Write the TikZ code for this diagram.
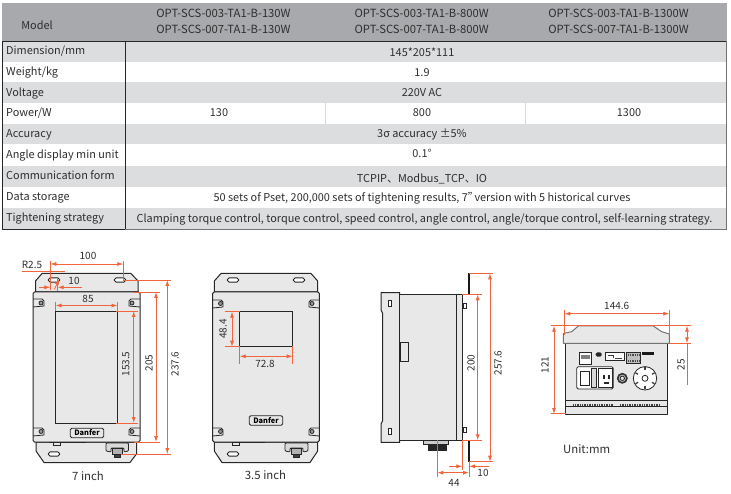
\documentclass[tikz,border=0pt]{standalone}
\usepackage{fontspec}
\setmainfont{Noto Sans CJK SC}
\usetikzlibrary{arrows.meta}

\definecolor{headgray}{HTML}{A7A9AC}
\definecolor{rowgray}{HTML}{DCDDDE}
\definecolor{bodygray}{HTML}{E8E8E8}
\definecolor{dimred}{HTML}{F0653C}
\definecolor{inkgray}{HTML}{2E2E2E}

\tikzset{
  celltext/.style={inner sep=0pt,anchor=base,font=\fontsize{10.9}{12}\selectfont,text=inkgray},
  headtext/.style={celltext,font=\fontsize{11.25}{12}\selectfont},
  rowlabel/.style={celltext,anchor=base west},
  dimtext/.style={inner sep=0pt,font=\fontsize{10}{12}\selectfont,text=inkgray},
  captext/.style={inner sep=0pt,font=\fontsize{11.4}{13}\selectfont,text=inkgray},
  dimline/.style={draw=dimred,line width=0.8pt,{Latex[length=6pt,width=4pt]}-{Latex[length=6pt,width=4pt]}},
  extline/.style={draw=dimred,line width=0.8pt},
  leaderline/.style={extline,-{Latex[length=6pt,width=4pt]}},
  device/.style={draw=black!85,line width=1pt,fill=bodygray,line join=round},
  detail/.style={draw=black!85,line width=0.8pt},
  slot/.style={draw=black!85,line width=0.9pt,fill=white,rounded corners=1.8pt,minimum width=11.5pt,minimum height=4.2pt,inner sep=0pt},
  logo/.style={draw=black!85,line width=0.8pt,rounded corners=1.5pt,inner sep=0pt,minimum height=9.5pt,minimum width=33.5pt,font=\fontsize{7.4}{8}\selectfont\bfseries}
}

\begin{document}
\begin{tikzpicture}[x=1pt,y=-1pt]
\useasboundingbox (0,0) rectangle (731,494);

% the table
\fill [headgray] (2,3) rectangle (727,41);
\fill [rowgray] (2,41) rectangle (727,62);
\fill [rowgray] (2,82) rectangle (727,103);
\fill [rowgray] (2,124) rectangle (727,144);
\fill [rowgray] (2,166) rectangle (727,187);
\fill [rowgray] (2,208) rectangle (727,229);

\draw [line width=0.8pt,black!85] (2,41.5)--(726.5,41.5);
\draw [line width=0.8pt,black!85] (2,41.5)--(2,229)--(125,229);
\draw [line width=1pt,black!85] (125,41.5)--(125,229);
\draw [line width=0.8pt,black!55] (125,229)--(726.5,229)--(726.5,41.5);
\draw [white!85!black] (325,103)--(325,124);
\draw [white!85!black] (525,103)--(525,124);

\node [celltext] (modelhead) at (37,29.3) {Model};
\node [headtext] (headlow1) at (223.5,17.7) {OPT-SCS-003-TA1-B-130W};
\node [headtext] (headlow2) at (223.5,34) {OPT-SCS-007-TA1-B-130W};
\node [headtext] (headmid1) at (421.7,17.7) {OPT-SCS-003-TA1-B-800W};
\node [headtext] (headmid2) at (421.7,34) {OPT-SCS-007-TA1-B-800W};
\node [headtext] (headtop1) at (618.5,17.7) {OPT-SCS-003-TA1-B-1300W};
\node [headtext] (headtop2) at (618.5,34) {OPT-SCS-007-TA1-B-1300W};

\node [rowlabel] (dimlabel) at (6,55) {Dimension/mm};
\node [rowlabel] (weightlabel) at (6,76) {Weight/kg};
\node [rowlabel] (voltlabel) at (6,96.7) {Voltage};
\node [rowlabel] (powerlabel) at (6,116.7) {Power/W};
\node [rowlabel] (acclabel) at (6,137.7) {Accuracy};
\node [rowlabel] (anglelabel) at (6,159) {Angle display min unit};
\node [rowlabel] (commlabel) at (6,180) {Communication form};
\node [rowlabel] (datalabel) at (6,201) {Data storage};
\node [rowlabel] (strategylabel) at (6,221.7) {Tightening strategy};

\node [celltext] (dimvalue) at (422,57) {145*205*111};
\node [celltext] (weightvalue) at (422,76.7) {1.9};
\node [celltext] (voltvalue) at (422,97) {220V AC};
\node [celltext] (powerlow) at (219,116.7) {130};
\node [celltext] (powermid) at (422,116.7) {800};
\node [celltext] (powertop) at (629,116.7) {1300};
\node [celltext] (accvalue) at (422,137.3) {3σ accuracy ±5\%};
\node [celltext] (anglevalue) at (422,157.7) {0.1°};
\node [celltext] (commvalue) at (422,182.3) {TCPIP、Modbus\_TCP、IO};
\node [celltext] (datavalue) at (422,202) {50 sets of Pset,~200,000 sets of tightening results,~7"\kern-0.62em~version with 5 historical curves};
\node [celltext] (strategyvalue) at (424.5,222.7) {Clamping torque control, torque control, speed control, angle control, angle/torque control, self-learning strategy.};


% the 7 inch front
\draw [device] (35.5,292)--(35.5,281)--(42,273.5)--(131,273.5)--(138,281)--(138,292)--cycle;
\draw [device] (36,442)--(36,451)--(44,462.5)--(130,462.5)--(136.5,454)--(136.5,442)--cycle;
\draw [device,rounded corners=1.5pt] (33,292) rectangle (140,442);
\draw [detail] (55.3,311) rectangle (117.3,423);
\node [slot] (slota) at (54,280) {};
\node [slot] (slotb) at (120,280) {};
\node [slot] (slotc) at (54,454) {};
\node [logo] (logoa) at (87,433) {Danfer};

\draw [detail] (33,299)--(42,299)--(44,301)--(44,306)--(33,307);
\draw [detail] (140,299)--(131,299)--(129,301)--(129,306)--(140,307);
\draw [detail] (33,428)--(42,428)--(44,430)--(44,435)--(33,436);
\draw [detail] (140,428)--(131,428)--(129,430)--(129,435)--(140,436);
\draw [detail,fill=black!40] (41,303) circle (2);
\draw [detail,fill=black!40] (132,303) circle (2);
\draw [detail,fill=black!40] (41,431.5) circle (2);
\draw [detail,fill=black!40] (132,431.5) circle (2);

\draw [line width=1pt,black!85] (49,442.5)--(86,442.5);
\draw [detail] (53,442)--(53,445)--(60,445)--(60,442);
\draw [detail,fill=black!15,rounded corners=1pt] (106,443)--(106,451)--(111,452)--(111,448)--(124,448)--(124,452)--(128.5,451)--(128.5,443)--cycle;
\draw [detail,fill=black!30] (112.5,448) rectangle (122,454);
\draw [detail,fill=black!75] (114,454) rectangle (120,457.5);

\coordinate (hundredL) at (50.3,264);
\coordinate (hundredR) at (123.3,264);
\draw [extline] (50.3,261)--(50.3,290);
\draw [extline] (123.3,261)--(123.3,280);
\draw [dimline] (hundredL)--(hundredR);
\node [dimtext] (hundredtext) at (88,256) {100};

\node [dimtext] (rtext) at (32,265) {R2.5};
\coordinate (rleft) at (21.7,271);
\coordinate (rright) at (65,271);
\draw [extline] (rleft)--(rright);

\coordinate (tenL) at (39,287.3);
\coordinate (tenR) at (81.7,287.3);
\coordinate (tenA) at (50.3,287.3);
\coordinate (tenB) at (57.7,287.3);
\draw [leaderline] (tenL)--(tenA);
\draw [leaderline] (tenR)--(tenB);
\draw [extline] (57.7,279)--(57.7,291.5);
\node [dimtext] (tentext) at (74,281) {10};
\draw [leaderline] (54.3,289.5)--(59.5,279);

\coordinate (eightyL) at (55.5,305.5);
\coordinate (eightyR) at (117.5,305.5);
\draw [extline] (55.5,302)--(55.5,311);
\draw [extline] (117.5,302)--(117.5,311);
\draw [dimline] (eightyL)--(eightyR);
\node [dimtext] (eightytext) at (88,299) {85};

\coordinate (winT) at (133.7,311);
\coordinate (winB) at (133.7,423);
\draw [extline] (116,311)--(138,311);
\draw [extline] (116,423)--(138,423);
\draw [dimline] (winT)--(winB);
\node [dimtext,rotate=90] (wintext) at (125.7,364) {153.5};

\coordinate (bodyT) at (156,292);
\coordinate (bodyB) at (156,442);
\draw [extline] (134,292)--(160,292);
\draw [extline] (134,442)--(160,442);
\draw [dimline] (bodyT)--(bodyB);
\node [dimtext,rotate=90] (bodytext) at (149,363) {205};

\coordinate (fullT) at (167.3,280);
\coordinate (fullB) at (167.3,454);
\draw [extline] (123,280)--(171,280);
\draw [extline] (121,454)--(171,454);
\draw [dimline] (fullT)--(fullB);
\node [dimtext,rotate=90] (fulltext) at (175,364) {237.6};

\node [captext] (seveninch) at (88,476) {7 inch};


% the 3.5 inch front
\draw [device] (214.3,292)--(214.3,281)--(221,273.5)--(311,273.5)--(317.7,281)--(317.7,292)--cycle;
\draw [device] (214.3,442)--(214.3,451)--(222,462.5)--(310,462.5)--(317.7,451)--(317.7,442)--cycle;
\draw [device,rounded corners=1.5pt] (212.7,292) rectangle (319.3,442);
\draw [detail] (239.5,311.7) rectangle (292.7,346.7);
\node [slot] (slotd) at (233,280) {};
\node [slot] (slote) at (299,280) {};
\node [slot] (slotf) at (233,454) {};
\node [logo] (logob) at (266,420.5) {Danfer};

\draw [detail] (212.7,300)--(221,300)--(223,302)--(223,307)--(212.7,308);
\draw [detail] (319.3,300)--(311,300)--(309,302)--(309,307)--(319.3,308);
\draw [detail] (212.7,428)--(221,428)--(223,430)--(223,435)--(212.7,436);
\draw [detail] (319.3,428)--(311,428)--(309,430)--(309,435)--(319.3,436);
\draw [detail,fill=black!40] (220.5,303.5) circle (2);
\draw [detail,fill=black!40] (312,303.5) circle (2);
\draw [detail,fill=black!40] (220.5,431.5) circle (2);
\draw [detail,fill=black!40] (312,431.5) circle (2);

\draw [line width=1pt,black!85] (232,442.5)--(265,442.5);
\draw [detail] (232.5,442)--(232.5,445)--(239.5,445)--(239.5,442);
\draw [detail,fill=black!15,rounded corners=1pt] (285,443)--(285,451)--(290,452)--(290,448)--(303,448)--(303,452)--(308,451)--(308,443)--cycle;
\draw [detail,fill=black!30] (291.5,448) rectangle (301.5,454);
\draw [detail,fill=black!75] (293.5,454) rectangle (299.5,457.5);

\coordinate (panelT) at (232,311.7);
\coordinate (panelB) at (232,346.7);
\draw [extline] (224.7,311.7)--(240,311.7);
\draw [extline] (224.7,346.7)--(240,346.7);
\draw [dimline] (panelT)--(panelB);
\node [dimtext,rotate=90] (paneltext) at (223,329) {48.4};

\coordinate (panelL) at (239.7,356.3);
\coordinate (panelR) at (292.7,356.3);
\draw [extline] (239.7,346)--(239.7,363.5);
\draw [extline] (292.7,346)--(292.7,363.5);
\draw [dimline] (panelL)--(panelR);
\node [dimtext] (panelwtext) at (265,364) {72.8};

\node [captext] (threeinch) at (265.5,475.5) {3.5 inch};


% the side view
\draw [device] (381,292.7)--(399.7,292.7)--(399.7,442.3)--(381,442.3)--(381,424)--(382.5,421)--(382.5,313)--(381,310)--cycle;
\draw [device] (399.7,294.3) rectangle (456.7,440.3);
\draw [device] (456.7,294.3) rectangle (462.7,440.3);
\draw [line width=1.4pt,black!90] (469,273.3)--(469,294.3);
\draw [line width=1.4pt,black!90] (469,440.3)--(469,461.7);
\draw [detail] (462.7,294.3)--(469,294.3);
\draw [detail] (462.7,440.3)--(469,440.3);
\draw [detail,fill=white] (463,303) rectangle (466.3,308);
\draw [detail,fill=white] (463,427.7) rectangle (466.3,432.7);
\draw [line width=1pt,black!85,fill=white] (388.5,301) rectangle (391.5,307);
\draw [line width=1pt,black!85,fill=white] (388.5,428) rectangle (391.5,434);
\draw [detail,fill=bodygray] (400,342.3) rectangle (408.7,361.7);
\draw [detail,fill=black!20] (423,440.3) rectangle (448,444);
\fill [black!85] (428.3,444) rectangle (446.7,450.7);

\coordinate (plateT) at (490,273.3);
\coordinate (plateB) at (490,461.7);
\draw [extline] (469,273.3)--(493,273.3);
\draw [extline] (469,461.7)--(493,461.7);
\draw [dimline] (plateT)--(plateB);
\node [dimtext,rotate=90] (platetext) at (498,363) {257.6};

\coordinate (sideT) at (477.7,294.3);
\coordinate (sideB) at (477.7,440.3);
\draw [extline] (462,294.3)--(482,294.3);
\draw [extline] (462,440.3)--(482,440.3);
\draw [dimline] (sideT)--(sideB);
\node [dimtext,rotate=90] (sidetext) at (471,363) {200};

\coordinate (depthL) at (437.3,472.7);
\coordinate (depthR) at (469,472.7);
\draw [extline] (437.3,440)--(437.3,476.7);
\draw [extline] (469,461.7)--(469,477);
\draw [dimline] (depthL)--(depthR);
\node [dimtext] (depthtext) at (454,483) {44};

\coordinate (flangeL) at (449,466.3);
\coordinate (flangeR) at (489,466.3);
\coordinate (flangeA) at (462.3,466.3);
\coordinate (flangeB) at (469,466.3);
\draw [extline] (462.3,440)--(462.3,470);
\draw [leaderline] (flangeL)--(flangeA);
\draw [leaderline] (flangeR)--(flangeB);
\node [dimtext] (flangetext) at (483,473) {10};


% the rear view
\draw [device] (565.7,343.3) rectangle (667.7,414);
\draw [device,draw=black!55] (563.3,343.3)--(563.3,333.5)--(571.7,331.7)--(578.3,326)--(653.3,326)--(661.7,331.7)--(669.3,334)--(669.3,343.3)--cycle;
\draw [detail] (565.7,400)--(667.7,400);
\draw [detail] (565.7,406.7)--(667.7,406.7);
\draw [line width=2.6pt,black!75,dash pattern=on 1pt off 0.7pt] (573.3,405)--(614,405);
\draw [line width=2.6pt,black!75,dash pattern=on 1pt off 0.7pt] (620,405)--(660.7,405);

\draw [detail,line width=1pt,fill=white] (579,352.3) rectangle (591.7,364);
\fill [black!50] (581,355) rectangle (590,359);
\fill [black!85,rounded corners=1.5pt] (595.7,352.3) rectangle (601.7,356.7);
\draw [detail,line width=1pt,fill=white] (605.2,352.3) rectangle (624.3,360);
\draw [line width=1pt,black!75] (608,355.5)--(613,355.5)--(613,358);
\draw [line width=1pt,black!75] (615,358)--(622,358);
\draw [detail,fill=black!25] (626.7,352.3) rectangle (640,363.3);
\draw [line width=2pt,black!70,dash pattern=on 1pt off 0.8pt] (628,355)--(639,355);
\draw [line width=2pt,black!70,dash pattern=on 1pt off 0.8pt] (628,360.5)--(639,360.5);
\fill [black!90] (642.3,351.7) rectangle (654,354.7);

\draw [detail,fill=white,rounded corners=1.5pt] (576.7,366.7) rectangle (613.3,389);
\draw [detail] (580,371.7) rectangle (589.3,385);
\draw [detail,fill=black!15] (591,368) rectangle (596.7,387.5);
\draw [detail] (598,368.5)--(612,368.5)--(612,387.5)--(598,387.5)--cycle;
\fill [black!85] (603,375) rectangle (605,379);
\fill [black!85] (608,375) rectangle (610,379);
\fill [black!85] (604,382) rectangle (609,383.5);

\draw [line width=1.6pt,black!80,fill=black!25] (622.3,378.3) circle (4.6);
\draw [detail,fill=bodygray] (622.3,378.3) circle (2.2);
\draw [detail,fill=white] (645,378.3) circle (11.7);
\draw [detail] (645,378.3) circle (3);
\foreach \a in {0,60,...,300}
  \draw [line width=1.3pt,black!75,shift={(645,378.3)}] (\a+30:8)--(\a+30:11);

\coordinate (rearL) at (564.3,313.7);
\coordinate (rearR) at (669.3,313.7);
\draw [extline] (564.3,310)--(564.3,335);
\draw [extline] (669.3,310)--(669.3,335);
\draw [dimline] (rearL)--(rearR);
\node [dimtext] (reartext) at (616.7,306) {144.6};

\coordinate (rearT) at (554,325.7);
\coordinate (rearB) at (554,414);
\draw [extline] (551.3,325.7)--(691,325.7);
\draw [extline] (551.3,413.7)--(566,413.7);
\draw [dimline] (rearT)--(rearB);
\node [dimtext,rotate=90] (rearhtext) at (545,365) {121};

\coordinate (coverT) at (687,325.7);
\coordinate (coverB) at (687,343.3);
\draw [extline] (669,343.3)--(691,343.3);
\draw [dimline] (coverT)--(coverB);
\draw [extline] (coverB)--(687,385);
\node [dimtext,rotate=90] (covertext) at (681,365) {25};

\node [captext] (unittext) at (586.7,449) {Unit:mm};

\end{tikzpicture}
\end{document}
